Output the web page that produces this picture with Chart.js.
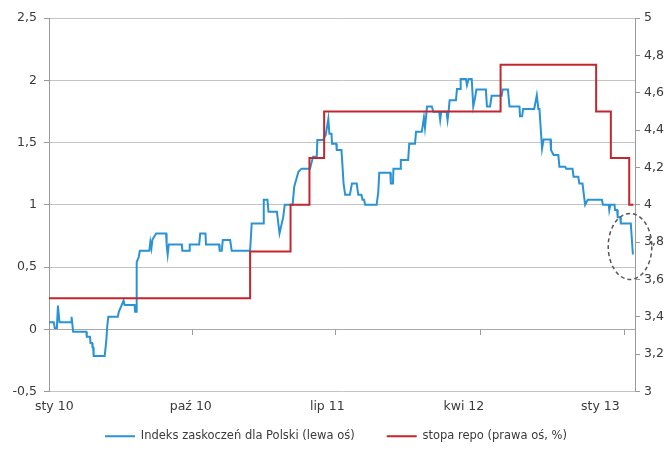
<!DOCTYPE html>
<html>
<head>
<meta charset="utf-8">
<script src="https://cdn.jsdelivr.net/npm/chart.js@4.4.0/dist/chart.umd.min.js"></script>
<style>
  html, body { margin: 0; padding: 0; background: #ffffff; }
  #wrap { width: 672px; height: 452px; }
</style>
</head>
<body>
<div id="wrap"><canvas id="chart" width="672" height="452"></canvas></div>
<script>
// Axis labels on the date axis and the month starts that carry tick marks
const xTickLabels = ['sty 10', 'paź 10', 'lip 11', 'kwi 12', 'sty 13'];
const xTickDates = ['2010-01-01', '2010-10-01', '2011-07-01', '2012-04-01', '2013-01-01'];

// NBP reference rate (right axis, %), value valid from each date
const repoDates = ['2010-01-01', '2011-01-19', '2011-04-06', '2011-05-12', '2011-06-09',
                   '2012-05-10', '2012-11-08', '2012-12-06', '2013-01-10', '2013-01-18'];
const repoRates = [3.5, 3.75, 4.0, 4.25, 4.5, 4.75, 4.5, 4.25, 4.0, 4.0];

// Economic surprise index for Poland (left axis): days since 1 Jan 2010 and index level
const surpriseDays = [
  0, 9, 11, 15, 17, 20, 42, 43, 46, 71, 72, 78, 79, 82, 83, 84, 85, 106, 109, 111,
  113, 131, 133, 137, 142, 144, 163, 164, 166, 167, 171, 173, 191, 193, 195, 197, 204, 223, 224, 226,
  228, 253, 254, 267, 268, 286, 288, 298, 299, 324, 325, 329, 331, 345, 348, 383, 386, 408, 409, 416,
  418, 434, 439, 446, 449, 464, 467, 475, 481, 497, 500, 503, 510, 511, 522, 527, 532, 534, 538, 539,
  547, 548, 557, 561, 564, 573, 577, 586, 589, 595, 597, 600, 602, 624, 627, 629, 650, 651, 655, 656,
  669, 670, 684, 686, 697, 699, 710, 714, 716, 720, 729, 732, 743, 745, 747, 757, 759, 761, 763, 775,
  777, 783, 784, 794, 796, 799, 805, 808, 811, 814, 832, 834, 840, 843, 862, 864, 874, 877, 896, 897,
  901, 903, 924, 929, 932, 934, 939, 942, 955, 956, 961, 970, 972, 983, 985, 997, 999, 1008, 1010, 1016,
  1021, 1026, 1053, 1055, 1066, 1067, 1069, 1077, 1078, 1082, 1083, 1088, 1089, 1108, 1112
];
const surpriseValues = [
  0.056, 0.056, 0.01, 0.01, 0.19, 0.056, 0.056, 0.10, -0.02, -0.02, -0.06, -0.06, -0.11, -0.11, -0.145, -0.145, -0.214, -0.214, -0.10, 0.03,
  0.10, 0.10, 0.14, 0.18, 0.23, 0.195, 0.195, 0.14, 0.14, 0.54, 0.58, 0.63, 0.63, 0.70, 0.65, 0.72, 0.77, 0.77, 0.68, 0.60,
  0.68, 0.68, 0.63, 0.63, 0.68, 0.68, 0.77, 0.77, 0.68, 0.68, 0.63, 0.63, 0.717, 0.717, 0.63, 0.63, 0.85, 0.85, 1.04, 1.04,
  0.944, 0.944, 0.77, 0.90, 1.0, 1.0, 1.145, 1.265, 1.29, 1.29, 1.34, 1.385, 1.385, 1.52, 1.52, 1.56, 1.69, 1.57, 1.57, 1.49,
  1.49, 1.44, 1.44, 1.17, 1.08, 1.08, 1.17, 1.17, 1.08, 1.08, 1.04, 1.04, 1.0, 1.0, 1.10, 1.257, 1.257, 1.17, 1.17, 1.29,
  1.29, 1.36, 1.36, 1.49, 1.49, 1.586, 1.586, 1.70, 1.62, 1.79, 1.79, 1.747, 1.747, 1.68, 1.747, 1.747, 1.68, 1.75, 1.84, 1.84,
  1.93, 1.93, 2.01, 2.01, 1.96, 2.01, 2.01, 1.79, 1.85, 1.925, 1.925, 1.79, 1.79, 1.875, 1.875, 1.925, 1.925, 1.79, 1.79, 1.71,
  1.71, 1.77, 1.77, 1.88, 1.77, 1.77, 1.45, 1.525, 1.525, 1.44, 1.40, 1.40, 1.305, 1.305, 1.29, 1.29, 1.225, 1.225, 1.17, 1.17,
  1.0, 1.04, 1.04, 1.0, 1.0, 0.957, 1.0, 1.0, 0.957, 0.957, 0.90, 0.90, 0.85, 0.85, 0.60
];

const DAY_MS = 86400000;
const START = Date.UTC(2010, 0, 1);
const dayOf = s => {
  const [y, m, d] = s.split('-').map(Number);
  return Math.round((Date.UTC(y, m - 1, d) - START) / DAY_MS);
};

const X_MAX = dayOf('2013-01-21');
const decimalComma = v => String(Number(v.toFixed(1))).replace('.', ',');

const TEXT = '#3a3a3a';
const GRID = '#c4c4c4';
const AXIS = '#9a9a9a';
const TICK_FONT = { family: 'DejaVu Sans', size: 12.5 };

// Dashed ring around the latest readings
const ringPlugin = {
  id: 'ring',
  afterDatasetsDraw(chart, args, opts) {
    const x = chart.scales.x, y = chart.scales.y;
    const x0 = x.getPixelForValue(dayOf(opts.from));
    const x1 = x.getPixelForValue(dayOf(opts.to));
    const y0 = y.getPixelForValue(opts.high);
    const y1 = y.getPixelForValue(opts.low);
    const ctx = chart.ctx;
    ctx.save();
    ctx.beginPath();
    ctx.ellipse((x0 + x1) / 2, (y0 + y1) / 2, (x1 - x0) / 2, (y1 - y0) / 2, 0, 0, Math.PI * 2);
    ctx.setLineDash([4, 3]);
    ctx.lineWidth = 1.5;
    ctx.strokeStyle = '#555555';
    ctx.stroke();
    ctx.restore();
  }
};

new Chart(document.getElementById('chart'), {
  type: 'line',
  data: {
    datasets: [
      {
        label: 'Indeks zaskoczeń dla Polski (lewa oś)',
        data: surpriseDays.map((d, i) => ({ x: d, y: surpriseValues[i] })),
        xAxisID: 'x',
        yAxisID: 'y',
        borderColor: '#2a93d5',
        backgroundColor: '#2a93d5',
        borderWidth: 2,
        pointRadius: 0,
        tension: 0,
        order: 2
      },
      {
        label: 'stopa repo (prawa oś, %)',
        data: repoDates.map((d, i) => ({ x: dayOf(d), y: repoRates[i] })),
        xAxisID: 'x',
        yAxisID: 'y2',
        borderColor: '#c4262e',
        backgroundColor: '#c4262e',
        borderWidth: 2,
        pointRadius: 0,
        stepped: 'before',
        order: 1
      }
    ]
  },
  options: {
    responsive: false,
    animation: false,
    devicePixelRatio: 1,
    layout: { padding: { top: 18, right: 0, bottom: 0, left: 0 } },
    plugins: {
      tooltip: { enabled: false },
      legend: {
        position: 'bottom',
        labels: {
          usePointStyle: true,
          pointStyle: 'line',
          pointStyleWidth: 30,
          padding: 32,
          color: TEXT,
          font: { family: 'DejaVu Sans', size: 11.5 },
          sort: (a, b) => a.datasetIndex - b.datasetIndex
        }
      },
      ring: { from: '2012-12-01', to: '2013-02-22', low: 0.40, high: 0.93 }
    },
    scales: {
      // time axis carrying the data; it only reserves a little room under the plot
      x: {
        type: 'linear',
        position: 'bottom',
        min: 0,
        max: X_MAX,
        grid: { display: false, drawTicks: false },
        border: { display: false },
        ticks: { display: false },
        afterFit: s => { s.height = 7; }
      },
      // month labels along the bottom edge of the plot
      xLabels: {
        type: 'linear',
        position: { y: -0.5 },
        min: 0,
        max: X_MAX,
        grid: { display: false, drawTicks: false },
        border: { display: false },
        afterBuildTicks: axis => {
          // labels spread evenly from just inside the left edge
          const first = 10, step = 260;
          axis.ticks = xTickLabels.map((_, i) => ({ value: first + i * step }));
        },
        ticks: {
          autoSkip: false,
          maxRotation: 0,
          padding: 8,
          color: TEXT,
          font: TICK_FONT,
          callback: (v, i) => xTickLabels[i]
        }
      },
      // category line at zero with its tick marks
      xMarks: {
        type: 'linear',
        position: { y: 0 },
        min: 0,
        max: X_MAX,
        afterBuildTicks: axis => {
          axis.ticks = xTickDates.map(d => ({ value: dayOf(d) }));
        },
        grid: { drawOnChartArea: false, drawTicks: true, tickLength: 5, color: AXIS },
        border: { display: true, color: '#a8a8a8', width: 1 },
        ticks: { display: false }
      },
      y: {
        position: 'left',
        min: -0.5,
        max: 2.5,
        afterFit: s => { s.width = 49; },
        ticks: {
          stepSize: 0.5,
          padding: 7,
          color: TEXT,
          font: TICK_FONT,
          callback: v => decimalComma(v)
        },
        grid: { color: GRID, lineWidth: 1, tickLength: 5, tickColor: AXIS },
        border: { color: AXIS, width: 1 }
      },
      y2: {
        position: 'right',
        min: 3,
        max: 5,
        afterFit: s => { s.width = 37; },
        ticks: {
          stepSize: 0.2,
          padding: 4,
          color: TEXT,
          font: TICK_FONT,
          callback: v => decimalComma(v)
        },
        grid: { drawOnChartArea: false, tickLength: 5, color: AXIS },
        border: { color: AXIS, width: 1 }
      }
    }
  },
  plugins: [ringPlugin]
});
</script>
</body>
</html>
